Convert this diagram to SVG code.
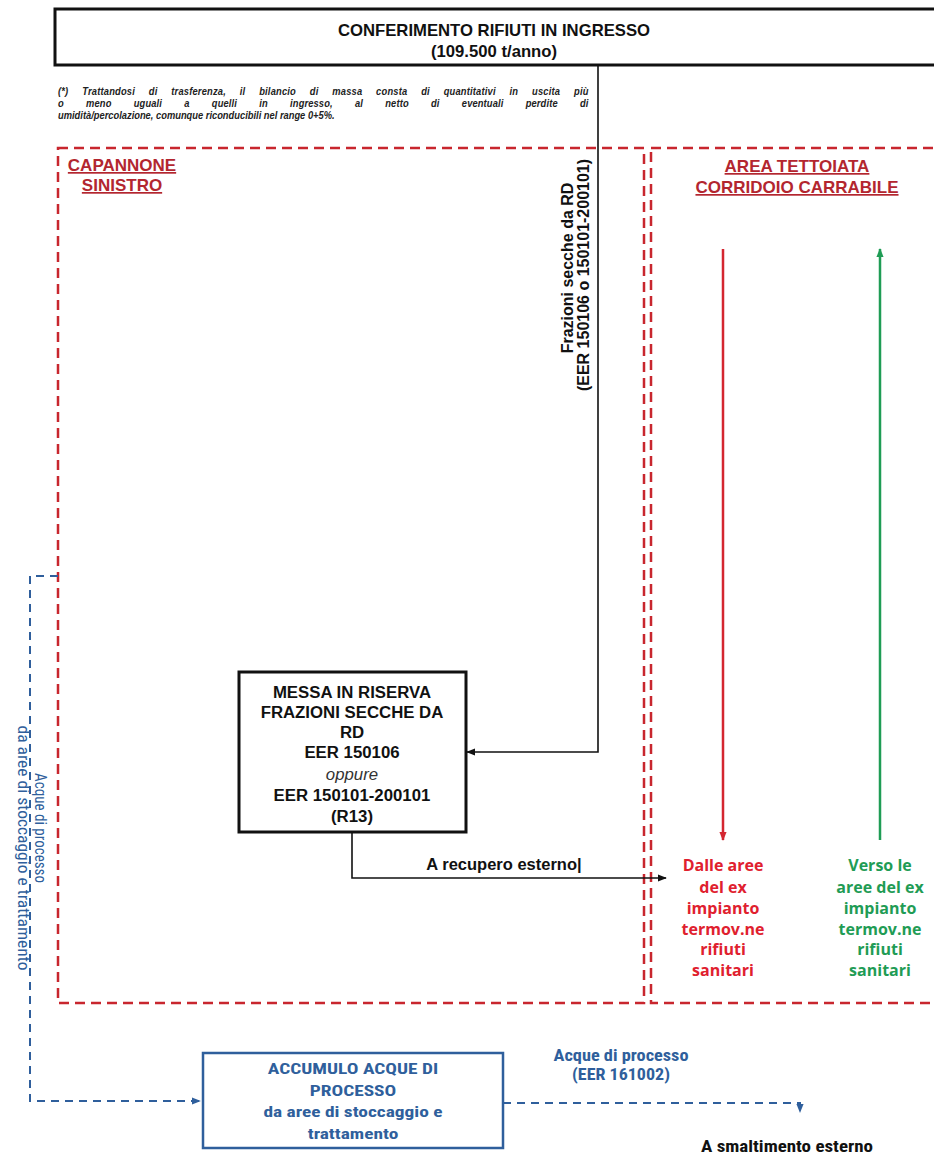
<svg xmlns="http://www.w3.org/2000/svg" width="934" height="1165" viewBox="0 0 934 1165">
<style>
.b{font-family:"Liberation Sans",Arial,sans-serif;font-weight:bold;fill:#111;}
.area{fill:none;stroke:#c8262e;stroke-width:2.5;stroke-dasharray:10 6;}
.lbl{font-family:"Liberation Sans",Arial,sans-serif;font-weight:bold;font-size:17px;fill:#b3262f;text-decoration:underline;}
.note{font-family:"Liberation Sans",Arial,sans-serif;font-weight:bold;font-style:italic;font-size:11px;fill:#222;}
.blk{fill:none;stroke:#111;stroke-width:1.6;}
.blue{fill:none;stroke:#2f5f9c;stroke-width:2;stroke-dasharray:8 6;}
.bt{font-family:"Liberation Sans Narrow","Roboto Condensed","Liberation Sans",sans-serif;fill:#2f5f9c;}
.os{font-family:"Open Sans","Lato",sans-serif;font-weight:bold;font-size:16px;}
</style>
<defs>
<marker id="ak" viewBox="0 0 10 10" refX="9" refY="5" markerWidth="9" markerHeight="9" markerUnits="userSpaceOnUse" orient="auto"><path d="M0,1 L10,5 L0,9 Z" fill="#111"/></marker>
<marker id="ar" viewBox="0 0 10 10" refX="9" refY="5" markerWidth="9" markerHeight="9" markerUnits="userSpaceOnUse" orient="auto"><path d="M0,1 L10,5 L0,9 Z" fill="#d42630"/></marker>
<marker id="ag" viewBox="0 0 10 10" refX="9" refY="5" markerWidth="9" markerHeight="9" markerUnits="userSpaceOnUse" orient="auto"><path d="M0,1 L10,5 L0,9 Z" fill="#1f9c55"/></marker>
<marker id="ab" viewBox="0 0 10 10" refX="9" refY="5" markerWidth="9" markerHeight="9" markerUnits="userSpaceOnUse" orient="auto"><path d="M0,1 L10,5 L0,9 Z" fill="#2f5f9c"/></marker>
</defs>
<rect width="934" height="1165" fill="#fff"/>

<g id="areas">
<rect class="area" x="58" y="148" width="586" height="855"/>
<rect class="area" x="651" y="148" width="320" height="855"/>
<text class="lbl" x="122" y="171" text-anchor="middle">CAPANNONE</text>
<text class="lbl" x="122" y="191" text-anchor="middle">SINISTRO</text>
<text class="lbl" x="797" y="172" text-anchor="middle">AREA TETTOIATA</text>
<text class="lbl" x="797" y="193" text-anchor="middle">CORRIDOIO CARRABILE</text>
</g>

<g id="conferimento">
<rect x="55" y="9" width="920" height="56" fill="#fff" stroke="#111" stroke-width="3"/>
<text class="b" x="494" y="36" font-size="16.7" text-anchor="middle">CONFERIMENTO RIFIUTI IN INGRESSO</text>
<text class="b" x="494" y="57" font-size="16.7" text-anchor="middle">(109.500 t/anno)</text>
</g>

<g id="nota" transform="translate(58,0) scale(0.85,1)">
<text class="note" x="0" y="95" word-spacing="13" textLength="624" lengthAdjust="spacing">(*) Trattandosi di trasferenza, il bilancio di massa consta di quantitativi in uscita più</text>
<text class="note" x="0" y="107" word-spacing="23" textLength="624" lengthAdjust="spacing">o meno uguali a quelli in ingresso, al netto di eventuali perdite di</text>
<text class="note" x="0" y="119">umidità/percolazione, comunque riconducibili nel range 0+5%.</text>
</g>

<g id="messa">
<rect x="239" y="672" width="227" height="160" fill="#fff" stroke="#111" stroke-width="3"/>
<g class="b" font-size="16.8" text-anchor="middle">
<text x="352" y="698">MESSA IN RISERVA</text>
<text x="352" y="718">FRAZIONI SECCHE DA</text>
<text x="352" y="738">RD</text>
<text x="352" y="758">EER 150106</text>
<text x="352" y="780" font-weight="normal" font-style="italic" fill="#333">oppure</text>
<text x="352" y="801">EER 150101-200101</text>
<text x="352" y="822">(R13)</text>
</g>
</g>

<g id="accumulo">
<rect x="203" y="1053" width="300" height="95" fill="#fff" stroke="#2f5f9c" stroke-width="2.5"/>
<g class="bt" font-weight="bold" font-size="15.5" text-anchor="middle" transform="translate(353,0) scale(1.25,1)">
<text x="0" y="1074">ACCUMULO ACQUE DI</text>
<text x="0" y="1096">PROCESSO</text>
<text x="0" y="1117">da aree di stoccaggio e</text>
<text x="0" y="1139">trattamento</text>
</g>
</g>

<g id="connectors">
<polyline class="blk" points="598,65 598,752 467,752" marker-end="url(#ak)"/>
<polyline class="blk" points="352,832 352,878 666,878" marker-end="url(#ak)"/>
<line x1="723" y1="249" x2="723" y2="840" stroke="#d42630" stroke-width="2.5" marker-end="url(#ar)"/>
<line x1="880" y1="840" x2="880" y2="249" stroke="#1f9c55" stroke-width="2.5" marker-end="url(#ag)"/>
<polyline class="blue" points="58,576 30,576 30,1101 200,1101" marker-end="url(#ab)"/>
<polyline class="blue" points="503,1103 800,1103 800,1112" marker-end="url(#ab)"/>
</g>

<g id="labels">
<text class="b" font-size="16" transform="translate(573,268) rotate(-90)" text-anchor="middle">Frazioni secche da RD</text>
<text class="b" font-size="16" transform="translate(589,275) rotate(-90)" text-anchor="middle">(EER 150106 o 150101-200101)</text>
<text class="b" font-size="16.5" x="504" y="870" text-anchor="middle">A recupero esterno|</text>
<g class="os" fill="#e0202e" text-anchor="middle">
<text x="723" y="871">Dalle aree</text>
<text x="723" y="893">del ex</text>
<text x="723" y="914">impianto</text>
<text x="723" y="935">termov.ne</text>
<text x="723" y="955">rifiuti</text>
<text x="723" y="976">sanitari</text>
</g>
<g class="os" fill="#1f9c55" text-anchor="middle">
<text x="880" y="871">Verso le</text>
<text x="880" y="893">aree del ex</text>
<text x="880" y="914">impianto</text>
<text x="880" y="935">termov.ne</text>
<text x="880" y="955">rifiuti</text>
<text x="880" y="976">sanitari</text>
</g>
<text class="bt" font-size="16.5" transform="translate(35,828) rotate(90)" text-anchor="middle" textLength="110" lengthAdjust="spacingAndGlyphs">Acque di processo</text>
<text class="bt" font-size="16.5" transform="translate(18,848) rotate(90)" text-anchor="middle" textLength="245" lengthAdjust="spacingAndGlyphs">da aree di stoccaggio e trattamento</text>
<text class="bt" font-size="16.5" font-weight="bold" x="621" y="1061" text-anchor="middle" textLength="135" lengthAdjust="spacingAndGlyphs">Acque di processo</text>
<text class="bt" font-size="16.5" font-weight="bold" x="621" y="1080" text-anchor="middle" textLength="98" lengthAdjust="spacingAndGlyphs">(EER 161002)</text>
<text class="bt" font-size="16.5" font-weight="bold" style="fill:#111" x="787" y="1152" text-anchor="middle" textLength="172" lengthAdjust="spacingAndGlyphs">A smaltimento esterno</text>
</g>
</svg>
